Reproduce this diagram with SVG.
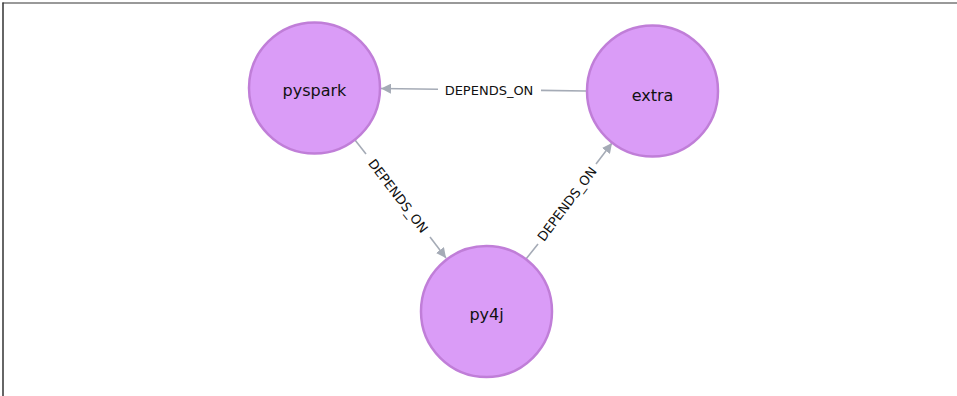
<svg xmlns="http://www.w3.org/2000/svg" width="957" height="396" viewBox="0 0 957 396">
<defs>
<style>
.node circle{fill:#DA9CF7;stroke:#C07ED8;stroke-width:2.5}
.node text{font-family:"DejaVu Sans",sans-serif;font-size:16px;fill:#111;text-anchor:middle;dominant-baseline:central}
.edge line{stroke:#A5ABB6;stroke-width:1.6}
.elabel{font-family:"DejaVu Sans",sans-serif;font-size:13px;fill:#111;text-anchor:middle;dominant-baseline:central}
</style>
<marker id="arr" viewBox="0 0 10 10" refX="10" refY="5" markerWidth="10" markerHeight="10" markerUnits="userSpaceOnUse" orient="auto">
<path d="M0,0 L10,5 L0,10 Z" fill="#A5ABB6"/>
</marker>
</defs>
<rect width="957" height="396" fill="#fff"/>
<line x1="2.5" y1="3" x2="957" y2="3" stroke="#777" stroke-width="1.5"/>
<line x1="3" y1="2.5" x2="3" y2="396" stroke="#333" stroke-width="1.5"/>
<g id="connectors">
<g class="edge" id="e-extra-pyspark">
<line x1="586" y1="91" x2="541" y2="90.4"/>
<line x1="438" y1="89.3" x2="381" y2="88.5" marker-end="url(#arr)"/>
<text class="elabel" x="489" y="90">DEPENDS_ON</text>
</g>
<g class="edge" id="e-pyspark-py4j">
<line x1="355" y1="140" x2="366" y2="154"/>
<line x1="430" y1="237" x2="446" y2="258" marker-end="url(#arr)"/>
<text class="elabel" x="398" y="196" transform="rotate(52.5 398 196)">DEPENDS_ON</text>
</g>
<g class="edge" id="e-py4j-extra">
<line x1="526" y1="259" x2="538" y2="244"/>
<line x1="596" y1="164" x2="612" y2="143" marker-end="url(#arr)"/>
<text class="elabel" x="567" y="204" transform="rotate(-53 567 204)">DEPENDS_ON</text>
</g>
</g>
<g class="node" id="pyspark"><circle cx="314.5" cy="88" r="65.5"/><text x="314.5" y="90">pyspark</text></g>
<g class="node" id="extra"><circle cx="652.5" cy="91" r="65.5"/><text x="652.5" y="95">extra</text></g>
<g class="node" id="py4j"><circle cx="486.5" cy="311.5" r="65.5"/><text x="486.5" y="314">py4j</text></g>
</svg>
